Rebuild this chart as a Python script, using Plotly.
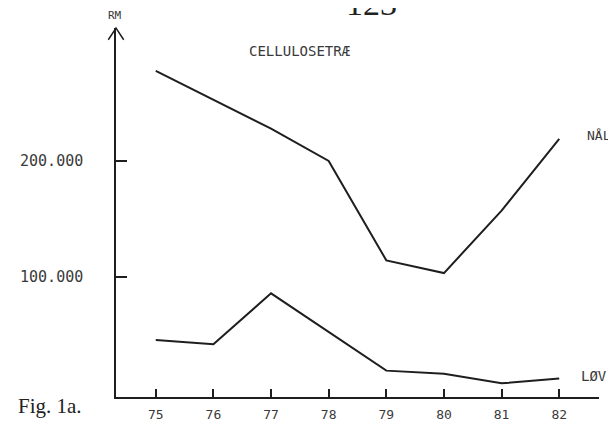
import plotly.graph_objects as go

years = [75, 76, 77, 78, 79, 80, 81, 82]
naal = [278000, 253000, 228000, 200000, 114000, 103000, 157000, 219000]
loev = [45000, 41500, 85500, 52000, 18600, 16000, 7600, 11900]
x_ticks = [75, 76, 77, 78, 79, 80, 81, 82]
x_labels = ["75", "76", "77", "78", "79", "80", "81", "82"]
y_ticks = [100000, 200000]
y_labels = ["100.000", "200.000"]

# page body has an 8px default margin, so the figure is offset by 8px
OFF = 8
W, H = 616 - OFF, 434 - OFF
L, R, T, B = 99 - OFF, 17, 28 - OFF, 29
pw, ph = W - L - R, H - T - B

mono = "DejaVu Sans Mono"
ink = "#1e1e1e"
txt = "#3a3a3a"

fig = go.Figure()
fig.add_trace(go.Scatter(x=years, y=naal, mode="lines", line=dict(color=ink, width=2), hoverinfo="skip"))
fig.add_trace(go.Scatter(x=years, y=loev, mode="lines", line=dict(color=ink, width=2), hoverinfo="skip"))

fig.update_layout(
    width=W, height=H, margin=dict(l=L, r=R, t=T, b=B),
    paper_bgcolor="white", plot_bgcolor="white", showlegend=False,
    xaxis=dict(range=[74.31, 82.69], showgrid=False, zeroline=False, showline=True,
               linecolor=ink, linewidth=2, ticks="inside", ticklen=8, tickwidth=1.5,
               tickcolor=ink, tickvals=x_ticks, ticktext=x_labels,
               tickfont=dict(family=mono, size=13, color=txt), ticklabelstandoff=4),
    yaxis=dict(range=[-4200, 315000], showgrid=False, zeroline=False, showline=True,
               linecolor=ink, linewidth=1.5, ticks="inside", ticklen=11, tickwidth=1.5,
               tickcolor=ink, tickvals=y_ticks, ticktext=y_labels,
               tickfont=dict(family=mono, size=15, color=txt), ticklabelstandoff=28),
)

# arrow head on the y axis
ax_w = 8 / pw
ax_h = 12 / ph
fig.add_shape(type="path", xref="paper", yref="paper",
              path=f"M {-ax_w} {1-ax_h} L 0 1 L {ax_w} {1-ax_h}",
              line=dict(color=ink, width=1.5))

def px(xp, yp):
    # screen pixel -> paper coords
    return (xp - OFF - L) / pw, (H - B - (yp - OFF)) / ph

def label(text, xp, yp, size, family=mono, color=txt, xanchor="center"):
    xx, yy = px(xp, yp)
    fig.add_annotation(text=text, x=xx, y=yy, xref="paper", yref="paper", showarrow=False,
                       xanchor=xanchor, yanchor="middle", font=dict(family=family, size=size, color=color))

label("RM", 98, 15, 11)
label("CELLULOSETRÆ", 289, 51, 14)
label("NÅL", 614, 138, 13, xanchor="right")
label("LØV", 594, 384, 14)
label("Fig. 1a.", 66, 414, 21, family="Liberation Serif", color="#222", xanchor="right")
label("123", 363, 3, 34, family="Liberation Serif", color="#222")

fig.write_html("out.html")
